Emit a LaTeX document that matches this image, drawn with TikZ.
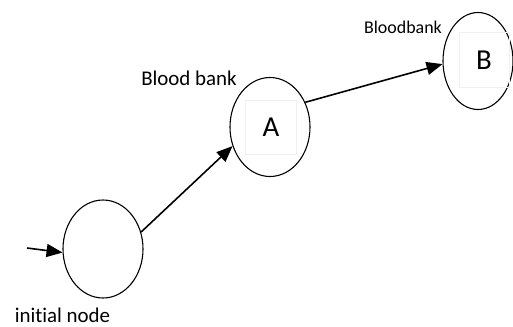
\documentclass[tikz,border=0pt]{standalone}
\usepackage{fontspec}
\setmainfont{Carlito}[Ligatures=NoCommon]
\usetikzlibrary{shapes.geometric}
\usetikzlibrary{arrows.meta}

\begin{document}
\begin{tikzpicture}[x=1bp, y=-1bp,
    state/.style={draw, ellipse, line width=1.1pt, inner sep=0pt},
    letterbox/.style={draw=gray!12, line width=0.8pt, inner sep=0pt, font=\fontsize{29}{30}\selectfont},
    tag/.style={inner sep=0pt, font=\fontsize{21}{22}\selectfont},
    link/.style={line width=1.6pt, -{Triangle[length=16bp, width=13bp]}}]
  % Fix the page to the size of the reference
  \useasboundingbox (0,0) rectangle (513,326);

  % The three states
  \node[state, minimum width=80bp, minimum height=98bp] (init) at (103,249) {};
  \node[state, minimum width=80bp, minimum height=99bp] (sa) at (270,127) {};
  \node[state, minimum width=70bp, minimum height=97bp] (sb) at (478,61) {};

  % Faint boxes holding the letters
  \node[letterbox, minimum width=51bp, minimum height=54bp] (a) at (271,127) {A};
  \node[letterbox, minimum width=50bp, minimum height=55bp] (b) at (484,60) {B};

  % Labels
  \node[tag, anchor=base] (lbinit) at (62.5,322) {initial node};
  \node[tag] (lba) at (189,78) {Blood bank};
  \node[tag, font=\fontsize{18}{19}\selectfont] (lbb) at (403,27) {Bloodbank};

  % Connectors
  \coordinate (start) at (27,248);
  \draw[link] (start) -- (init.185);
  \draw[link] (init.24) -- (sa.207);
  \draw[link] (sa.35) -- (sb.185);
\end{tikzpicture}
\end{document}
